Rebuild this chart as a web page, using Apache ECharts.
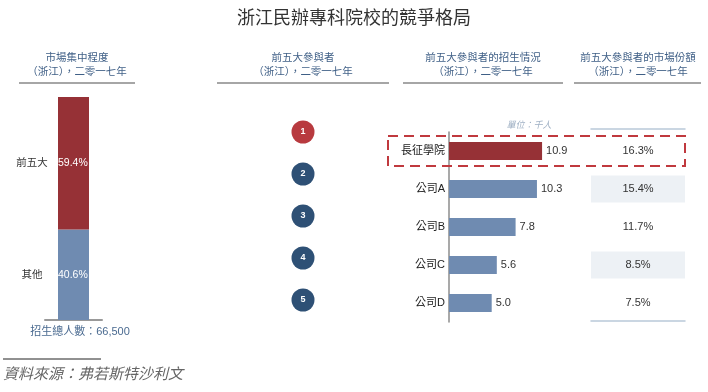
<!DOCTYPE html>
<html><head><meta charset="utf-8">
<script src="https://cdn.jsdelivr.net/npm/echarts@6/dist/echarts.min.js"></script>
<style>html,body{margin:0;padding:0;background:#fff}#c{width:708px;height:392px}</style>
</head><body><div id="c"></div>
<script>
var FONT = '"Liberation Sans","Noto Sans CJK TC",sans-serif';
var titleText = '浙江民辦專科院校的競爭格局';
var headers = [
  ['市場集中程度', '（浙江），二零一七年'],
  ['前五大參與者', '（浙江），二零一七年'],
  ['前五大參與者的招生情況', '（浙江），二零一七年'],
  ['前五大參與者的市場份額', '（浙江），二零一七年']
];
var concCats = ['其他', '前五大'];
var concValues = [40.6, 59.4];
var totalText = '招生總人數：66,500';
var ranks = [1, 2, 3, 4, 5];
var players = ['長征學院', '公司A', '公司B', '公司C', '公司D'];
var enrol = [10.9, 10.3, 7.8, 5.6, 5.0];
var shares = [16.3, 15.4, 11.7, 8.5, 7.5];
var unitText = '單位：千人';
var sourceText = '資料來源：弗若斯特沙利文';

var RED = '#963136', BLUE = '#6f8bb1';
var chart = echarts.init(document.getElementById('c'));

var headerX = [77, 303, 483, 638];
var underline = [[19, 135], [217, 389], [403, 563], [574, 701]];
var graphics = [];
headers.forEach(function (h, i) {
  graphics.push({type: 'text', x: headerX[i], y: 58, style: {text: h[0], font: '10.5px ' + FONT, fill: '#3f5f86', align: 'center', verticalAlign: 'middle'}});
  graphics.push({type: 'text', x: headerX[i], y: 72, style: {text: h[1], font: '10.5px ' + FONT, fill: '#3f5f86', align: 'center', verticalAlign: 'middle'}});
  graphics.push({type: 'line', shape: {x1: underline[i][0], y1: 83, x2: underline[i][1], y2: 83}, style: {stroke: '#a6a6a6', lineWidth: 2}});
});
graphics.push({type: 'text', x: 80, y: 332, style: {text: totalText, font: '11px ' + FONT, fill: '#4a6a90', align: 'center', verticalAlign: 'middle'}});
graphics.push({type: 'text', x: 529, y: 125, style: {text: unitText, font: 'italic 9px ' + FONT, fill: '#9fb0c4', align: 'center', verticalAlign: 'middle'}});
graphics.push({type: 'line', shape: {x1: 3, y1: 359, x2: 101, y2: 359}, style: {stroke: '#222', lineWidth: 1}});
graphics.push({type: 'text', x: 3, y: 375, style: {text: sourceText, font: 'italic 15px ' + FONT, fill: '#666', align: 'left', verticalAlign: 'middle'}});

var option = {
  animation: false,
  title: {text: titleText, left: 'center', top: 5, textStyle: {fontFamily: FONT, fontSize: 18, fontWeight: 'normal', color: '#333'}},
  grid: [
    {left: 45, top: 97, width: 57, height: 223},
    {left: 280, top: 111, width: 46, height: 210},
    {left: 449, top: 132, width: 111, height: 190},
    {left: 591, top: 132, width: 94, height: 190}
  ],
  xAxis: [
    {gridIndex: 0, type: 'category', data: ['浙江'], axisLabel: {show: false}, axisTick: {show: false}, axisLine: {lineStyle: {color: '#999', width: 2}}},
    {gridIndex: 1, type: 'value', min: 0, max: 2, show: false},
    {gridIndex: 2, type: 'value', min: 0, max: 13, show: false},
    {gridIndex: 3, type: 'value', min: 0, max: 1, position: 'top', offset: 3, axisLabel: {show: false}, axisTick: {show: false}, splitLine: {show: false}, axisLine: {show: true, lineStyle: {color: '#b9c9d9', width: 1.5}}},
    {gridIndex: 3, type: 'value', min: 0, max: 1, position: 'bottom', offset: -1, axisLabel: {show: false}, axisTick: {show: false}, splitLine: {show: false}, axisLine: {show: true, lineStyle: {color: '#b9c9d9', width: 1.5}}}
  ],
  yAxis: [
    {gridIndex: 0, type: 'value', min: 0, max: 100, show: false},
    {gridIndex: 1, type: 'category', data: ranks, inverse: true, show: false},
    {gridIndex: 2, type: 'category', data: players, inverse: true, axisTick: {show: false},
      axisLine: {lineStyle: {color: '#8c8c8c', width: 1.5}},
      axisLabel: {fontFamily: FONT, fontSize: 11, color: '#222', margin: 4}},
    {gridIndex: 3, type: 'category', data: players, inverse: true, show: false}
  ],
  series: [
    {type: 'bar', xAxisIndex: 0, yAxisIndex: 0, stack: 'c', barWidth: 31, data: [concValues[0]],
      itemStyle: {color: BLUE},
      label: {show: true, position: [-41, '50%'], verticalAlign: 'middle', align: 'left',
        formatter: function () { return '{n|' + concCats[0] + '}{v|' + concValues[0].toFixed(1) + '%}'; },
        rich: {n: {width: 30, align: 'center', fontFamily: FONT, fontSize: 10.5, color: '#333'}, v: {padding: [0, 0, 0, 11], fontFamily: FONT, fontSize: 10.5, color: '#fff'}}}},
    {type: 'bar', xAxisIndex: 0, yAxisIndex: 0, stack: 'c', barWidth: 31, data: [concValues[1]],
      itemStyle: {color: RED},
      label: {show: true, position: [-41, '50%'], verticalAlign: 'middle', align: 'left',
        formatter: function () { return '{n|' + concCats[1] + '}{v|' + concValues[1].toFixed(1) + '%}'; },
        rich: {n: {width: 30, align: 'center', fontFamily: FONT, fontSize: 10.5, color: '#333'}, v: {padding: [0, 0, 0, 11], fontFamily: FONT, fontSize: 10.5, color: '#fff'}}}},
    {type: 'scatter', xAxisIndex: 1, yAxisIndex: 1, symbolSize: 23,
      data: ranks.map(function (r, i) { return {value: [1, i], itemStyle: {color: i === 0 ? '#b83a3f' : '#2e5075', opacity: 1}}; }),
      itemStyle: {opacity: 1},
      label: {show: true, position: 'inside', formatter: function (p) { return ranks[p.dataIndex]; }, fontFamily: FONT, fontSize: 9, fontWeight: 'bold', color: '#fff'}},
    {type: 'bar', xAxisIndex: 2, yAxisIndex: 2, barWidth: 18,
      data: enrol.map(function (v, i) { return {value: v, itemStyle: {color: i === 0 ? RED : BLUE}}; }),
      label: {show: true, position: 'right', distance: 4, fontFamily: FONT, fontSize: 11, color: '#333', formatter: function (p) { return p.value.toFixed(1); }}},
    {type: 'custom', xAxisIndex: 3, yAxisIndex: 3,
      data: shares.map(function (s, i) { return [0.5, i, s]; }),
      encode: {x: 0, y: 1},
      renderItem: function (params, api) {
        var idx = params.dataIndex;
        var y = api.coord([0.5, idx])[1];
        var cs = params.coordSys;
        var children = [];
        if (idx % 2 === 1) {
          children.push({type: 'rect', shape: {x: cs.x, y: y - 13.5, width: cs.width, height: 27}, style: {fill: '#edf1f5'}});
        }
        children.push({type: 'text', x: cs.x + cs.width / 2, y: y, style: {text: api.value(2).toFixed(1) + '%', font: '11px ' + FONT, fill: '#333', align: 'center', verticalAlign: 'middle'}});
        return {type: 'group', children: children};
      }}
  ],
  graphic: graphics
};
chart.setOption(option);
var cy = chart.convertToPixel({gridIndex: 2}, [0, 0])[1];
var x0 = chart.convertToPixel({gridIndex: 2}, [0, 0])[0];
graphics.push({type: 'rect', shape: {x: x0 - 61, y: cy - 15, width: 297, height: 30},
  style: {fill: 'none', stroke: '#c0393e', lineWidth: 2, lineDash: [10, 6]}, z: 10});
chart.setOption({graphic: graphics});
</script></body></html>
